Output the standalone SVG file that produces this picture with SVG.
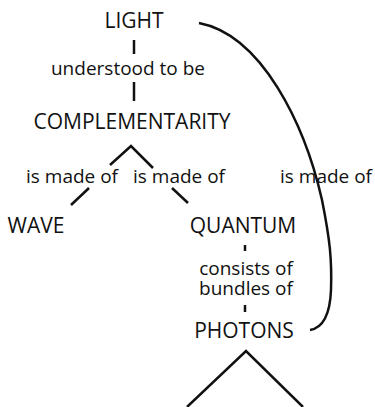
<svg xmlns="http://www.w3.org/2000/svg" width="375" height="407" viewBox="0 0 375 407">
<style>
.n{font-family:"Open Sans","DejaVu Sans",sans-serif;font-size:21px;fill:#111;text-anchor:middle}
.l{font-family:"Open Sans","DejaVu Sans",sans-serif;font-size:19px;fill:#111;text-anchor:middle}
.c{fill:none;stroke:#111;stroke-width:2.5;stroke-linecap:butt}
</style>
<rect width="375" height="407" fill="#fff"/>
<g id="connectors">
<line class="c" x1="134" y1="40" x2="134" y2="54"/>
<line class="c" x1="134" y1="82" x2="134" y2="101"/>
<polyline class="c" points="110,165 131,146 153,168"/>
<line class="c" x1="89" y1="188" x2="71" y2="205"/>
<line class="c" x1="172" y1="188" x2="188" y2="203"/>
<line class="c" x1="245" y1="245" x2="245" y2="251"/>
<line class="c" x1="245" y1="305" x2="245" y2="312"/>
<polyline class="c" points="187,407 246,351 303,407"/>
<path class="c" d="M199,23 C262,35 305,125 322,200 C330,240 332,260 331,290 C330,315 322,328 310,330"/>
</g>
<g id="light"><text class="n" x="134" y="28">LIGHT</text></g>
<g id="label-understood"><text class="l" x="128" y="75">understood to be</text></g>
<g id="complementarity"><text class="n" x="132" y="129">COMPLEMENTARITY</text></g>
<g id="label-made1"><text class="l" x="72" y="183">is made of</text></g>
<g id="label-made2"><text class="l" x="179" y="183">is made of</text></g>
<g id="label-made3"><text class="l" x="326" y="183">is made of</text></g>
<g id="wave"><text class="n" x="36" y="233">WAVE</text></g>
<g id="quantum"><text class="n" x="243" y="233">QUANTUM</text></g>
<g id="label-consists"><text class="l" x="246" y="275">consists of</text><text class="l" x="246" y="295">bundles of</text></g>
<g id="photons"><text class="n" x="244" y="338">PHOTONS</text></g>
</svg>
